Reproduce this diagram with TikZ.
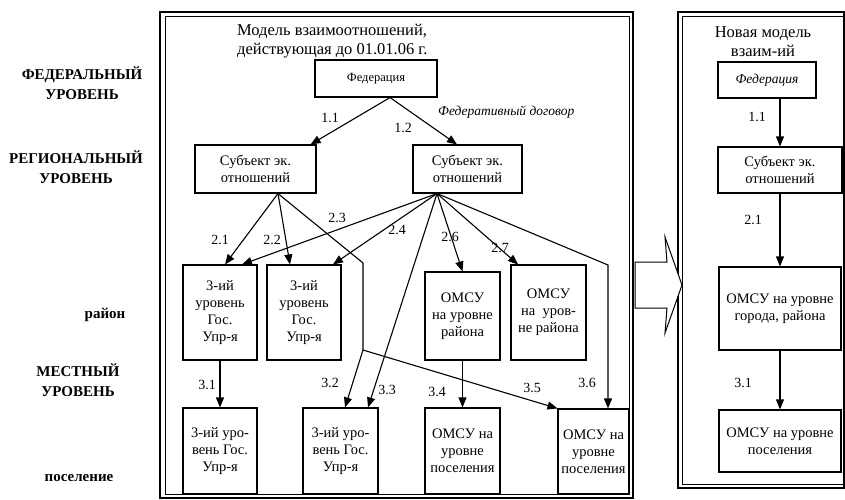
\documentclass[tikz,border=0pt]{standalone}
\usepackage{fontspec}
\setmainfont{Liberation Serif}
\usetikzlibrary{arrows.meta,calc}
\newcommand\txtbox{\fontsize{14.5}{17}\selectfont}
\newcommand\txtsmall{\fontsize{12.5}{15}\selectfont}
\newcommand\txtital{\fontsize{13.5}{15}\selectfont\itshape}
\newcommand\txtside{\fontsize{15}{20}\selectfont\bfseries}
\newcommand\txttitle{\fontsize{16.5}{19}\selectfont}
\newcommand\txtlbl{\fontsize{14}{16}\selectfont}
\begin{document}
\begin{tikzpicture}[x=1pt,y=-1pt,
 box/.style={draw,line width=1.1pt,align=center,inner sep=0pt,font=\txtbox},
 conn/.style={line width=1.1pt},
 arr/.style={line width=1.1pt,-{Triangle[length=10pt,width=8pt]}},
 lbl/.style={inner sep=0pt,font=\txtlbl},
 side/.style={align=center,inner sep=0pt,font=\txtside},
 frameout/.style={line width=1.8pt},
 framein/.style={line width=0.7pt}]
\useasboundingbox (0,0) rectangle (845,500);
% frames
\draw[frameout] (160,12) rectangle (633,498);
\draw[framein] (165,16) rectangle (629,494);
\draw[frameout] (678,12) rectangle (844,488);
\draw[framein] (682,16) rectangle (844,484);
% block arrow
\draw[line width=1pt,fill=white] (635,262) -- (667,262) -- (665,237) -- (682,285) -- (665,333) -- (667,308) -- (635,308) -- cycle;
% side labels
\node[side] (sfed) at (82,83) {ФЕДЕРАЛЬНЫЙ\\УРОВЕНЬ};
\node[side] (sreg) at (76,167) {РЕГИОНАЛЬНЫЙ\\УРОВЕНЬ};
\node[side] (sray) at (105,315) {район};
\node[side] (sloc) at (78,380) {МЕСТНЫЙ\\УРОВЕНЬ};
\node[side] (spos) at (79,478) {поселение};
% titles
\node[anchor=west,align=left,inner sep=0pt,font=\txttitle] (title) at (237,41) {Модель взаимоотношений,\\действующая до 01.01.06 г.};
\node[align=center,inner sep=0pt,font=\txttitle] (rtitle) at (763,42) {Новая модель\\взаим-ий};
% left model boxes
\node[box,font=\txtsmall,minimum width=122pt,minimum height=37pt] (fed) at (376,78.5) {Федерация};
\node[box,minimum width=121pt,minimum height=48pt] (ls) at (255.5,169) {Субъект эк.\\отношений};
\node[box,minimum width=109pt,minimum height=48pt] (rs) at (467.5,169) {Субъект эк.\\отношений};
\node[box,minimum width=74pt,minimum height=95pt] (A) at (220,312.5) {3-ий\\уровень\\Гос.\\Упр-я};
\node[box,minimum width=74pt,minimum height=95pt] (B) at (304,312.5) {3-ий\\уровень\\Гос.\\Упр-я};
\node[box,minimum width=75pt,minimum height=88pt] (C) at (462.5,316) {ОМСУ\\на уровне\\района};
\node[box,minimum width=75pt,minimum height=95pt] (D) at (548.5,312.5) {ОМСУ\\на~ уров-\\не района};
\node[box,minimum width=74pt,minimum height=86pt] (E) at (220,451) {3-ий уро-\\вень Гос.\\Упр-я};
\node[box,minimum width=75pt,minimum height=86pt] (F) at (340.5,451) {3-ий уро-\\вень Гос.\\Упр-я};
\node[box,minimum width=75pt,minimum height=86pt] (G) at (462.5,451) {ОМСУ на\\уровне\\поселения};
\node[box,minimum width=71pt,minimum height=85pt] (H) at (593.5,451.5) {ОМСУ на\\уровне\\поселения};
% right model boxes
\node[box,font=\txtital,minimum width=98pt,minimum height=36pt] (RF) at (767,80) {Федерация};
\node[box,minimum width=124pt,minimum height=46pt] (RS) at (780,170) {Субъект эк.\\отношений};
\node[box,minimum width=122pt,minimum height=83pt] (RO1) at (780,308.5) {ОМСУ на уровне\\города, района};
\node[box,minimum width=122pt,minimum height=62pt] (RO2) at (780,441) {ОМСУ на уровне\\поселения};
% connectors, left model
\coordinate (fb) at ([xshift=14pt]fed.south);
\draw[arr] (fb) -- ([xshift=-6pt]ls.north east);
\draw[arr] (fb) -- ([xshift=-10.5pt]rs.north);
\coordinate (lsb) at ([xshift=22.5pt]ls.south);
\coordinate (rsb) at ([xshift=-30.5pt]rs.south);
\draw[arr] (lsb) -- ([xshift=5pt]A.north);
\draw[arr] (lsb) -- ([xshift=-14pt]B.north);
\coordinate (bend1) at (363,263);
\coordinate (J) at (363,350);
\draw[conn] (lsb) -- (bend1) -- (J);
\draw[arr] (J) -- ([xshift=4.5pt]F.north);
\draw[arr] (J) -- (H.north west);
\draw[arr] (rsb) -- ([xshift=22pt]A.north);
\draw[arr] (rsb) -- ([xshift=29pt]B.north);
\draw[arr] (rsb) -- ([xshift=27.5pt]F.north);
\draw[arr] (rsb) -- (C.north);
\draw[arr] (rsb) -- ([xshift=-30.5pt]D.north);
\coordinate (bend2) at (608,265);
\draw[arr] (rsb) -- (bend2) -- ([xshift=14.5pt]H.north);
\draw[arr] (A) -- (E);
\draw[arr] (C) -- (G);
% connectors, right model
\draw[arr] (RS.north |- RF.south) -- (RS.north);
\draw[arr] (RS) -- (RO1);
\draw[arr] (RO1) -- (RO2);
% labels
\node[anchor=west,inner sep=0pt,font=\txtital] (fdog) at (438,112) {Федеративный договор};
\node[lbl] (l11) at (330,118) {1.1};
\node[lbl] (l12) at (403,128) {1.2};
\node[lbl] (l21) at (220,240) {2.1};
\node[lbl] (l22) at (272,240) {2.2};
\node[lbl] (l23) at (337,218) {2.3};
\node[lbl] (l24) at (397,230) {2.4};
\node[lbl] (l26) at (450,237) {2.6};
\node[lbl] (l27) at (500,248) {2.7};
\node[lbl] (l31) at (207,385) {3.1};
\node[lbl] (l32) at (330,383) {3.2};
\node[lbl] (l33) at (387,390) {3.3};
\node[lbl] (l34) at (437,392) {3.4};
\node[lbl] (l35) at (532,388) {3.5};
\node[lbl] (l36) at (587,383) {3.6};
\node[lbl] (r11) at (757,117) {1.1};
\node[lbl] (r21) at (753,220) {2.1};
\node[lbl] (r31) at (743,383) {3.1};
\end{tikzpicture}
\end{document}
